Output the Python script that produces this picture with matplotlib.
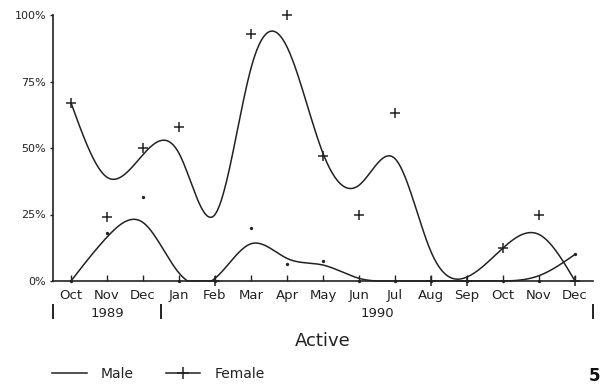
import numpy as np
import matplotlib
matplotlib.use("Agg")
import matplotlib.pyplot as plt
from matplotlib.lines import Line2D
import matplotlib.transforms as mtransforms

# ---------------- data ----------------
months = ["Oct", "Nov", "Dec", "Jan", "Feb", "Mar", "Apr", "May",
          "Jun", "Jul", "Aug", "Sep", "Oct", "Nov", "Dec"]
years = ["1989", "1990"]
year_spans = [(-0.5, 2.5), (2.5, 14.5)]

# observed percentages
female_obs = [67, 24, 50, 58, 0, 93, 100, 47, 25, 63, 0, 0, 12.5, 25, 0]
male_obs = [0, 18, 31.5, 0, 0, 20, 6.5, 7.5, 0, 0, 0, 0, 0, 0, 10]

# smoothed (fitted) curve values at each month
female_fit = [67, 39, 47.5, 48, 25, 80, 88, 48, 36, 46, 11, 1.5, 12.4, 17.5, 0]
male_fit = [0, 16.5, 22, 3, 1, 14, 8.5, 6, 1, 0, 0, 0, 0, 2, 10]

y_ticks = [0, 25, 50, 75, 100]
y_labels = ["0%", "25%", "50%", "75%", "100%"]


def natural_spline(x, y, xs):
    x = np.asarray(x, float)
    y = np.asarray(y, float)
    n = len(x)
    h = np.diff(x)
    A = np.zeros((n, n))
    b = np.zeros(n)
    A[0, 0] = 1
    A[-1, -1] = 1
    for i in range(1, n - 1):
        A[i, i - 1] = h[i - 1]
        A[i, i] = 2 * (h[i - 1] + h[i])
        A[i, i + 1] = h[i]
        b[i] = 6 * ((y[i + 1] - y[i]) / h[i] - (y[i] - y[i - 1]) / h[i - 1])
    M = np.linalg.solve(A, b)
    idx = np.clip(np.searchsorted(x, xs) - 1, 0, n - 2)
    x0, x1 = x[idx], x[idx + 1]
    hh = x1 - x0
    t0 = x1 - xs
    t1 = xs - x0
    return (M[idx] * t0 ** 3 / (6 * hh) + M[idx + 1] * t1 ** 3 / (6 * hh)
            + (y[idx] / hh - M[idx] * hh / 6) * t0
            + (y[idx + 1] / hh - M[idx + 1] * hh / 6) * t1)


plt.rcParams['font.family'] = ['DejaVu Sans']
ink = "#222222"

fig = plt.figure(figsize=(6.01, 3.85), dpi=100)
ax = fig.add_axes([53 / 601, 1 - 281 / 385, 540 / 601, 266 / 385])

xpos = np.arange(len(months))
xs = np.linspace(0, len(months) - 1, 600)

f_curve = natural_spline(xpos, female_fit, xs)
m_curve = np.clip(natural_spline(xpos, male_fit, xs), 0, None)

ax.plot(xs, f_curve, color=ink, lw=1.1, clip_on=False)
ax.plot(xs, m_curve, color=ink, lw=1.1, clip_on=False)
ax.plot(xpos, female_obs, ls="none", marker="+", ms=6.5, mew=1.1,
        color=ink, clip_on=False)
ax.plot(xpos, male_obs, ls="none", marker="o", ms=2.4, mew=0,
        color=ink, clip_on=False)

ax.set_xlim(-0.5, 14.5)
ax.set_ylim(0, 100)
ax.set_xticks(xpos)
ax.set_xticklabels(months, fontsize=9.5)
ax.set_yticks(y_ticks)
ax.set_yticklabels(y_labels, fontsize=8)
ax.tick_params(axis="x", direction="in", length=4, width=1, pad=6,
               color=ink, labelcolor=ink)
ax.tick_params(axis="y", direction="out", length=2, width=1, pad=3,
               color=ink, labelcolor=ink)
for s in ["top", "right"]:
    ax.spines[s].set_visible(False)
for s in ["left", "bottom"]:
    ax.spines[s].set_linewidth(1.2)
    ax.spines[s].set_color(ink)

# year row
trans = mtransforms.blended_transform_factory(ax.transData, ax.transAxes)
for label, (a, b) in zip(years, year_spans):
    ax.text((a + b) / 2, -0.124, label, transform=trans, ha="center",
            va="center", fontsize=9.5, color=ink)
for xb in sorted(set([s for span in year_spans for s in span])):
    ax.add_line(Line2D([xb, xb], [-0.090, -0.139], transform=trans,
                       color=ink, lw=1.4, clip_on=False))

ax.text(0.5, -0.226, "Active", transform=ax.transAxes, ha="center",
        va="center", fontsize=13, color=ink)

handles = [Line2D([], [], color=ink, lw=1.1),
           Line2D([], [], color=ink, lw=1.1, marker="+", ms=8, mew=1.1)]
fig.legend(handles, ["Male", "Female"], loc="center left",
           bbox_to_anchor=(52 / 601, 1 - 374 / 385), ncol=2, frameon=False,
           fontsize=10, handlelength=2.5, handletextpad=1.0,
           columnspacing=2.3, borderpad=0, borderaxespad=0, labelcolor=ink)

fig.text(600 / 601, 1 - 376 / 385, "5", fontsize=12, fontweight="bold",
         ha="right", va="center", color="#111111")

fig.savefig("out.png", dpi=100, facecolor="white")
